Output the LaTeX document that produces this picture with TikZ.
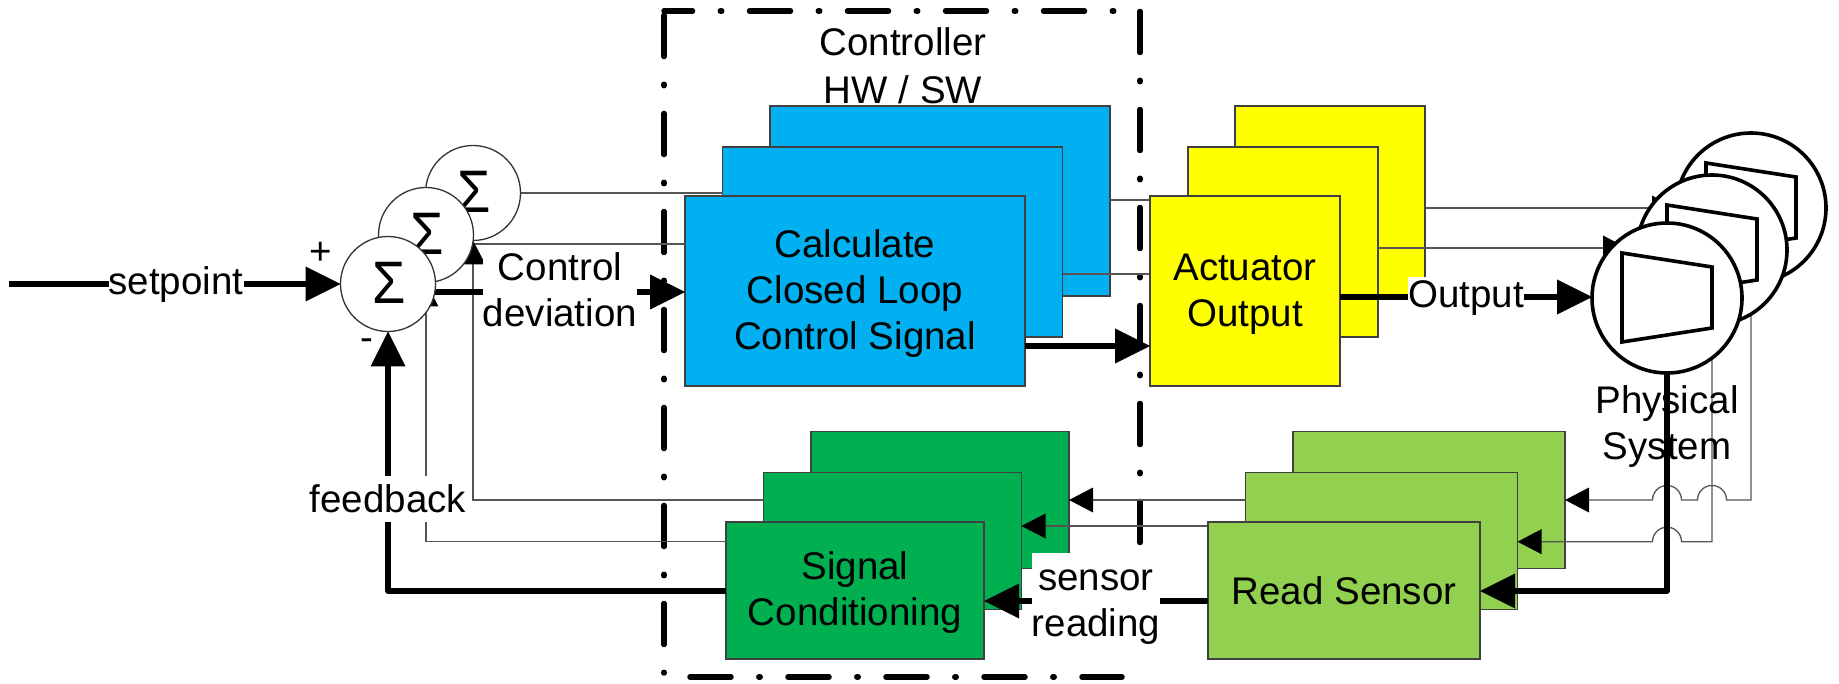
\documentclass[tikz,border=0pt]{standalone}
\usepackage{fontspec}
\setmainfont{Liberation Sans}
\usetikzlibrary{arrows.meta,calc}
\definecolor{ctlblue}{HTML}{00B0F0}
\definecolor{actyellow}{HTML}{FFFF00}
\definecolor{senslight}{HTML}{92D050}
\definecolor{sensdark}{HTML}{00B050}
\definecolor{wire}{HTML}{555555}
\newcommand{\dnstrut}{\rule{0pt}{32pt}}
\newcommand{\sumsym}{\hspace*{3pt}\raisebox{2pt}{\scalebox{.9}[1]{Σ}}}
\tikzset{
  lbl/.style={font=\fontsize{38.5}{46}\selectfont,align=center,inner sep=0pt,outer sep=0pt,text=black},
  wlbl/.style={lbl,fill=white},
  boxw/.style={draw=black!75,line width=1.3pt,inner sep=0pt,outer sep=0pt,font=\fontsize{38.5}{46}\selectfont,align=center},
  blueb/.style={boxw,fill=ctlblue,minimum width=340pt,minimum height=190pt},
  yelb/.style={boxw,fill=actyellow,minimum width=190pt,minimum height=190pt},
  lgb/.style={boxw,fill=senslight,minimum width=272pt,minimum height=137pt},
  dgb/.style={boxw,fill=sensdark,minimum width=258pt,minimum height=137pt},
  sumc/.style={circle,draw=black!80,line width=1.3pt,fill=white,minimum size=95pt,inner sep=0pt,outer sep=0pt,font=\fontsize{60}{60}\selectfont},
  physc/.style={circle,draw=black,line width=3.6pt,fill=white,minimum size=150pt,inner sep=0pt,outer sep=0pt},
  trap/.style={draw=black,line width=3.6pt,line join=miter},
  thin wire/.style={draw=wire,line width=1.3pt},
  thinarr/.style={thin wire,-{Triangle[length=24pt,width=25pt,line width=0pt,black]}},
  thickw/.style={draw=black,line width=5.6pt,line join=round},
  thickarr/.style={thickw,-{Triangle[length=35pt,width=35pt,line width=0pt,black]}},
  ctlframe/.style={draw=black,line width=5.5pt,line cap=round,dash pattern=on 41pt off 27.8pt on 1.4pt off 27.8pt}
}
\begin{document}
\begin{tikzpicture}[x=1pt,y=-1pt]
\useasboundingbox (0,0) rectangle (1839,684);
\fill[white] (0,0) rectangle (1839,684);

% controller frame
\draw[ctlframe,dash phase=12.5pt] (664,11) -- (1141,11);
\draw[ctlframe] (664,15.5) -- (664,673);
\draw[ctlframe] (1140,11.5) -- (1140,668);
\draw[ctlframe] (690,677) -- (1122,677);

% level coordinates
\coordinate (ya) at (0,500);
\coordinate (yb) at (0,526);
\coordinate (yc) at (0,541.7);
\coordinate (yd) at (0,591);
\coordinate (ye) at (0,601);
\coordinate (yf) at (0,292);
\coordinate (yg) at (0,346);
\coordinate (yh) at (0,200);
\coordinate (yi) at (0,274);
\coordinate (yj) at (0,208);
\coordinate (yk) at (0,248);
\coordinate (yl) at (0,297);
\coordinate (ym) at (0,244);
\coordinate (setstart) at (9,284);
\coordinate (armtip) at (1627,248);

% boxes
\node[blueb] (bb) at (940,201) {};
\node[blueb] (bm) at (892.5,242) {};
\node[yelb] (yb3) at (1330,201) {};
\node[yelb] (ym3) at (1283,242) {};
\node[lgb] (lb) at (1429,500) {};
\node[lgb] (lm) at (1381.5,541) {};
\node[dgb] (db) at (940,500) {};
\node[dgb] (dm) at (892.5,541) {};

% thin wires between the rear layers
\draw[thin wire] (bb.east |- yh) -- (ym3.west |- yh);
\draw[thin wire] (bm.east |- yi) -- (1151,274);
\draw[thinarr] (lm.west |- ya) -- (db.east |- ya);
\draw[thinarr] (1208,526) -- (dm.east |- yb);

\node[blueb] (bf) at (855,291) {\dnstrut Calculate\\Closed Loop\\Control Signal};
\node[yelb] (yf3) at (1245,291) {\dnstrut Actuator\\Output};
\node[lgb] (lf) at (1344,590.5) {Read Sensor};
\node[dgb] (df) at (855,590.5) {\dnstrut Signal\\Conditioning};

% circles positions known up front for wires behind them
\coordinate (sfc) at (388,284);
\coordinate (smc) at (426,235);
\coordinate (sbc) at (473,193);
\coordinate (pfc) at (1667,298);
\coordinate (pmc) at (1712,250);
\coordinate (pbc) at (1751,208);

% wires behind the circles
\draw[thin wire] (sbc) -- (bm.west |- sbc);
\draw[thin wire] (smc |- ym) -- (sbc |- ym) -- (bf.west |- ym);
\draw[thinarr] (dm.west |- ya) -- ($(sbc |- ya)$) -- ($(sbc)+(0,47.5)$);
\draw[thinarr] (df.west |- yc) -- ($(smc |- yc)$) -- ($(smc)+(0,47.5)$);
\draw[thinarr] (yb3.east |- yj) -- ($(pbc)+(-75,0)$);
\draw[thinarr] (ym3.east |- yk) -- (armtip);
\draw[thinarr] (pbc) -- (pbc |- ya) -- ($(pmc |- ya)+(14.5,0)$) arc[start angle=0,end angle=180,radius=14.5pt]
  -- ($(pfc |- ya)+(14.5,0)$) arc[start angle=0,end angle=180,radius=14.5pt] -- (lb.east |- ya);
\draw[thinarr] (pmc) -- (pmc |- yc) -- ($(pfc |- yc)+(14.5,0)$) arc[start angle=0,end angle=180,radius=14.5pt] -- (lm.east |- yc);
\draw[thickarr] (sfc |- yf) -- (bf.west |- yf);

% summing junctions
\node[sumc] (sb) at (sbc) {\sumsym};
\node[sumc] (sm) at (smc) {\sumsym};
\node[sumc] (sf) at (sfc) {\sumsym};

% physical system
\node[physc] (pb) at (pbc) {};
\draw[trap] ($(pb)+(-45,-45)$) -- ($(pb)+(45,-31)$) -- ($(pb)+(45,30)$) -- ($(pb)+(-45,44)$) -- cycle;
\node[physc] (pm) at (pmc) {};
\draw[trap] ($(pm)+(-45,-45)$) -- ($(pm)+(45,-31)$) -- ($(pm)+(45,30)$) -- ($(pm)+(-45,44)$) -- cycle;
\node[physc] (pf) at (pfc) {};
\draw[trap] ($(pf)+(-45,-45)$) -- ($(pf)+(45,-31)$) -- ($(pf)+(45,30)$) -- ($(pf)+(-45,44)$) -- cycle;

% main (thick) path
\draw[thickarr] (setstart) -- (sf.west);
\draw[thickarr] (bf.east |- yg) -- (yf3.west |- yg);
\draw[thickarr] (yf3.east |- yl) -- (pf.west |- yl);
\draw[thickarr] (pf.south) -- (pf.south |- yd) -- (lf.east |- yd);
\draw[thickarr] (lf.west |- ye) -- (df.east |- ye);
\draw[thickarr] (df.west |- yd) -- (sf.south |- yd) -- (sf.south);

% labels
\node[wlbl,minimum width=135pt,minimum height=40pt] (lsp) at (176,285) {setpoint};
\node[wlbl,minimum width=154pt,minimum height=86pt] (lcd) at (560,290) {Control\\deviation};
\node[wlbl,minimum width=155pt,minimum height=46pt] (lfb) at (388,499) {feedback};
\node[wlbl,minimum width=114pt,minimum height=42pt] (lout) at (1466,298) {Output};
\node[wlbl,minimum width=128pt,minimum height=92pt] (lsr) at (1096,599) {\rule{0pt}{36pt}sensor\\reading};
\node[lbl] (lctl) at (903,66) {Controller\\[2pt]HW / SW};
\node[lbl] (lphys) at (1667,427) {Physical\\System};
\node[lbl] (lplus) at (321,253) {+};
\node[lbl] (lminus) at (367,345) {-};
\end{tikzpicture}
\end{document}
